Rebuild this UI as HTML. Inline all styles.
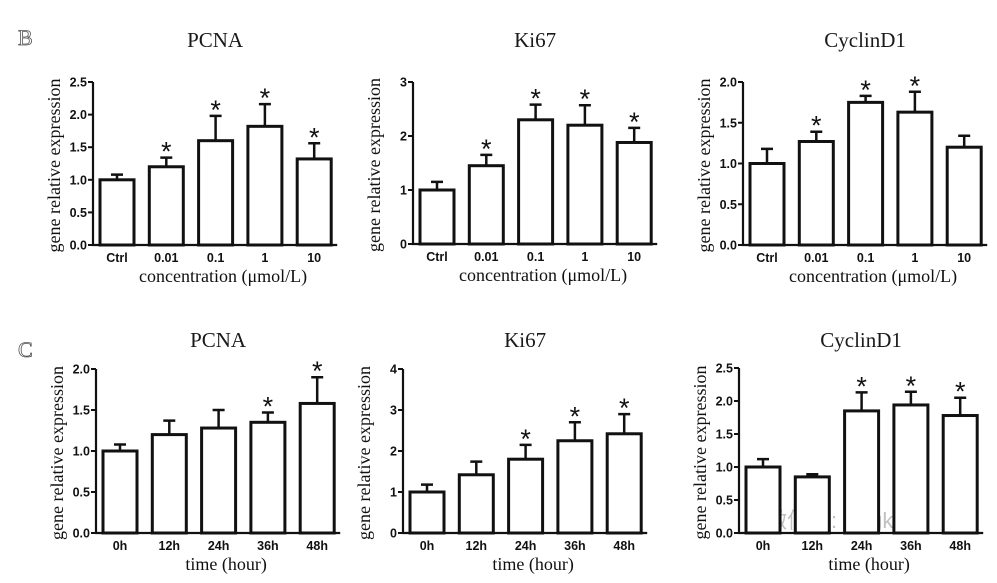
<!DOCTYPE html>
<html><head><meta charset="utf-8">
<style>
html,body{margin:0;padding:0;background:#fff;}
svg{display:block;}
</style></head>
<body>
<svg id="fig" width="997" height="583" viewBox="0 0 997 583" xmlns="http://www.w3.org/2000/svg">
<text x="18" y="45" font-family="Liberation Serif, serif" font-size="22" fill="#fff" stroke="#555" stroke-width="0.8">B</text>
<text x="18" y="357" font-family="Liberation Serif, serif" font-size="22" fill="#fff" stroke="#555" stroke-width="0.8">C</text>
<text x="765" y="528" font-family="Liberation Sans, Noto Sans CJK SC, sans-serif" font-size="22" fill="#999" opacity="0.6">微信号: swgkcl</text>
</svg>
<script>
// Data arrays
const catsB = ["Ctrl","0.01","0.1","1","10"];
const catsC = ["0h","12h","24h","36h","48h"];
const pcnaB = [1.0,1.2,1.6,1.82,1.32];
const pcnaBErr = [0.08,0.14,0.38,0.34,0.24];
const pcnaBStar = [0,1,1,1,1];
const ki67B = [1.0,1.45,2.3,2.2,1.88];
const ki67BErr = [0.15,0.2,0.28,0.37,0.27];
const ki67BStar = [0,1,1,1,1];
const cycB = [1.0,1.27,1.75,1.63,1.2];
const cycBErr = [0.18,0.12,0.08,0.25,0.14];
const cycBStar = [0,1,1,1,0];
const pcnaC = [1.0,1.2,1.28,1.35,1.58];
const pcnaCErr = [0.08,0.17,0.22,0.12,0.32];
const pcnaCStar = [0,0,0,1,1];
const ki67C = [1.0,1.42,1.8,2.25,2.42];
const ki67CErr = [0.18,0.32,0.35,0.45,0.48];
const ki67CStar = [0,0,1,1,1];
const cycC = [1.0,0.85,1.85,1.94,1.78];
const cycCErr = [0.12,0.04,0.28,0.2,0.27];
const cycCStar = [0,0,1,1,1];
const ticks25 = ["0.0","0.5","1.0","1.5","2.0","2.5"];
const ticks3 = ["0","1","2","3"];
const ticks2 = ["0.0","0.5","1.0","1.5","2.0"];
const ticks4 = ["0","1","2","3","4"];

const NS="http://www.w3.org/2000/svg";
const svg=document.getElementById('fig');
function mk(tag,attrs,parent){const e=document.createElementNS(NS,tag);for(const k in attrs)e.setAttribute(k,attrs[k]);(parent||svg).appendChild(e);return e;}

function panel(o){
  const g=mk('g',{});
  
  
  const ymax=parseFloat(o.ticks[o.ticks.length-1]);
  const y=v=>o.y0-(v/ymax)*(o.y0-o.yTop);
  const step=49.3,bw=34;
  const xb=i=>o.ax+7+i*step;
  const right=xb(o.cats.length-1)+bw+6;
  const t=mk('text',{x:(o.ax+right)/2,y:o.titleY,'text-anchor':'middle','font-family':'Liberation Serif, serif','font-size':21,fill:'#1a1a1a'},g);
  t.textContent=o.title;
  
  
  o.vals.forEach((v,i)=>{
    const x=xb(i),top=y(v),et=y(v+o.err[i]),cx=x+bw/2;
    const eb=mk('path',{d:`M${cx} ${top} V${et} M${cx-6} ${et} H${cx+6}`,stroke:'#111','stroke-width':2.5,fill:'none'},g);
    
    
    const r=mk('rect',{x:x,y:top,width:bw,height:o.y0-top,fill:'#fff',stroke:'#111','stroke-width':3},g);
    
    
    if(o.star[i]){
      const s=mk('text',{x:cx,y:et+3,'text-anchor':'middle','font-family':'Liberation Sans, sans-serif','font-size':27,fill:'#111'},g);
      s.textContent='*';
      
      
    }
    const l=mk('text',{x:cx,y:o.y0+17,'text-anchor':'middle','font-family':'Liberation Sans, sans-serif','font-size':12.5,'font-weight':'bold',fill:'#111'},g);
    l.textContent=o.cats[i];
    
    
  });
  const ax=mk('path',{d:`M${o.ax} ${o.yTop} V${o.y0} H${right}`,stroke:'#111','stroke-width':2.2,fill:'none'},g);
  
  
  o.ticks.forEach(tk=>{
    const yy=y(parseFloat(tk));
    const tl=mk('line',{x1:o.ax-5,x2:o.ax,y1:yy,y2:yy,stroke:'#111','stroke-width':2},g);
    
    
    const tt=mk('text',{x:o.ax-6,y:yy+4.5,'text-anchor':'end','font-family':'Liberation Sans, sans-serif','font-size':12.5,'font-weight':'bold',fill:'#111'},g);
    tt.textContent=tk;
    
    
  });
  const yt=mk('text',{x:0,y:0,'text-anchor':'middle','font-family':'Liberation Serif, serif','font-size':18,fill:'#111',transform:`translate(${o.ax-33},${(o.yTop+o.y0)/2+2}) rotate(-90)`},g);
  yt.textContent='gene relative expression';
  
  
  const xt=mk('text',{x:(o.ax+right)/2+8,y:o.y0+37,'text-anchor':'middle','font-family':'Liberation Serif, serif','font-size':18,fill:'#111'},g);
  xt.textContent=o.xtitle;
  
  
}
const xtB='concentration (\u03bcmol/L)', xtC='time (hour)';
panel({name:'chart-b-pcna',title:'PCNA',ax:93,yTop:82,y0:245,titleY:47,cats:catsB,vals:pcnaB,err:pcnaBErr,star:pcnaBStar,ticks:ticks25,xtitle:xtB});
panel({name:'chart-b-ki67',title:'Ki67',ax:413,yTop:82,y0:244,titleY:47,cats:catsB,vals:ki67B,err:ki67BErr,star:ki67BStar,ticks:ticks3,xtitle:xtB});
panel({name:'chart-b-cyclind1',title:'CyclinD1',ax:743,yTop:82,y0:245,titleY:47,cats:catsB,vals:cycB,err:cycBErr,star:cycBStar,ticks:ticks2,xtitle:xtB});
panel({name:'chart-c-pcna',title:'PCNA',ax:96,yTop:369,y0:533,titleY:347,cats:catsC,vals:pcnaC,err:pcnaCErr,star:pcnaCStar,ticks:ticks2,xtitle:xtC});
panel({name:'chart-c-ki67',title:'Ki67',ax:403,yTop:369,y0:533,titleY:347,cats:catsC,vals:ki67C,err:ki67CErr,star:ki67CStar,ticks:ticks4,xtitle:xtC});
panel({name:'chart-c-cyclind1',title:'CyclinD1',ax:739,yTop:368,y0:533,titleY:347,cats:catsC,vals:cycC,err:cycCErr,star:cycCStar,ticks:ticks25,xtitle:xtC});
</script>
</body></html>
